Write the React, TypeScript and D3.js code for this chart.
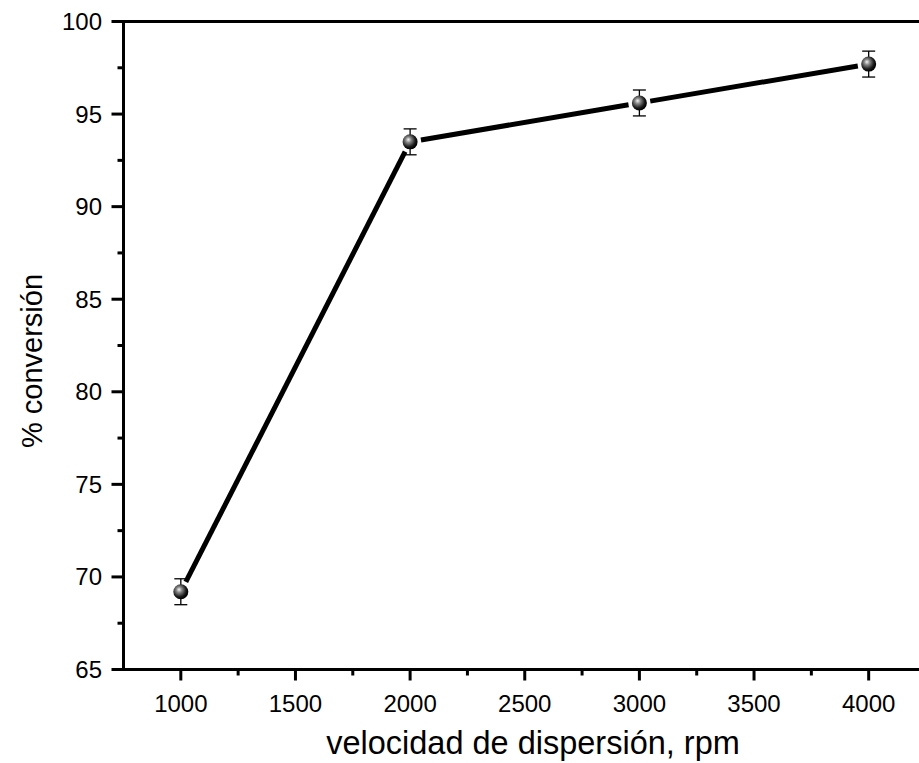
import React from "react";
import * as d3 from "d3";

const speeds = [1000, 2000, 3000, 4000];
const conversion = [69.2, 93.5, 95.6, 97.7];
const errors = [0.7, 0.7, 0.7, 0.7];
const xTicks = [1000, 1500, 2000, 2500, 3000, 3500, 4000];
const yTicks = [65, 70, 75, 80, 85, 90, 95, 100];

export default function App() {
  const W = 919, H = 763;
  const x = d3.scaleLinear().domain([750, 4250]).range([123.5, 926]);
  const y = d3.scaleLinear().domain([65, 100]).range([669.5, 21.5]);
  const font = "'Liberation Sans', Arial, sans-serif";
  const xMinor = d3.range(750, 4251, 250).filter((v) => !xTicks.includes(v) && v > 750);
  const yMinor = d3.range(65, 100.01, 2.5).filter((v) => v % 5 !== 0);
  const pts = speeds.map((s, i) => [x(s), y(conversion[i])] as [number, number]);
  const gap = 11;
  const segs = pts.slice(1).map((p, i) => {
    const a = pts[i];
    const dx = p[0] - a[0], dy = p[1] - a[1];
    const L = Math.hypot(dx, dy);
    const ux = dx / L, uy = dy / L;
    return [a[0] + ux * gap, a[1] + uy * gap, p[0] - ux * gap, p[1] - uy * gap];
  });
  return (
    <svg width={W} height={H} style={{ position: "absolute", left: 0, top: 0, background: "#fff" }}>
      <defs>
        <radialGradient id="ball" cx="0.4" cy="0.4" r="0.6" fx="0.38" fy="0.35">
          <stop offset="0" stopColor="#f4f4f4" />
          <stop offset="0.3" stopColor="#8a8a8a" />
          <stop offset="0.75" stopColor="#1a1a1a" />
          <stop offset="1" stopColor="#000" />
        </radialGradient>
      </defs>
      {/* axes frame */}
      <line x1={x(750)} x2={W + 10} y1={y(100)} y2={y(100)} stroke="#000" strokeWidth={3} />
      <line x1={x(750)} x2={W + 10} y1={y(65)} y2={y(65)} stroke="#000" strokeWidth={3} />
      <line x1={x(750)} x2={x(750)} y1={y(100) - 1.5} y2={y(65) + 1.5} stroke="#000" strokeWidth={3} />
      {/* x ticks */}
      {xTicks.map((t) => (
        <g key={"xt" + t}>
          <line x1={x(t)} x2={x(t)} y1={y(65)} y2={y(65) + 11} stroke="#000" strokeWidth={3} />
          <text x={x(t)} y={712} textAnchor="middle" fontFamily={font} fontSize={24}>{t}</text>
        </g>
      ))}
      {xMinor.map((t) => (
        <line key={"xm" + t} x1={x(t)} x2={x(t)} y1={y(65)} y2={y(65) + 6} stroke="#000" strokeWidth={3} />
      ))}
      {/* y ticks */}
      {yTicks.map((t) => (
        <g key={"yt" + t}>
          <line x1={x(750) - 12} x2={x(750)} y1={y(t)} y2={y(t)} stroke="#000" strokeWidth={3} />
          <text x={102} y={y(t) + 8.5} textAnchor="end" fontFamily={font} fontSize={24}>{t}</text>
        </g>
      ))}
      {yMinor.map((t) => (
        <line key={"ym" + t} x1={x(750) - 6} x2={x(750)} y1={y(t)} y2={y(t)} stroke="#000" strokeWidth={3} />
      ))}
      {/* line */}
      {segs.map((s, i) => (
        <line key={"s" + i} x1={s[0]} y1={s[1]} x2={s[2]} y2={s[3]} stroke="#000" strokeWidth={5} />
      ))}
      {/* error bars */}
      {speeds.map((s, i) => (
        <g key={"e" + i} stroke="#000" strokeWidth={1.3}>
          <line x1={x(s)} x2={x(s)} y1={y(conversion[i] + errors[i])} y2={y(conversion[i] - errors[i])} />
          <line x1={x(s) - 6.5} x2={x(s) + 6.5} y1={y(conversion[i] + errors[i])} y2={y(conversion[i] + errors[i])} />
          <line x1={x(s) - 6.5} x2={x(s) + 6.5} y1={y(conversion[i] - errors[i])} y2={y(conversion[i] - errors[i])} />
        </g>
      ))}
      {/* markers */}
      {pts.map((p, i) => (
        <circle key={"m" + i} cx={p[0]} cy={p[1]} r={7.5} fill="url(#ball)" />
      ))}
      {/* titles */}
      <text x={533} y={754} textAnchor="middle" fontFamily={font} fontSize={32.5}>velocidad de dispersión, rpm</text>
      <text transform={`translate(42,${361}) rotate(-90)`} textAnchor="middle" fontFamily={font} fontSize={29}>% conversión</text>
    </svg>
  );
}
